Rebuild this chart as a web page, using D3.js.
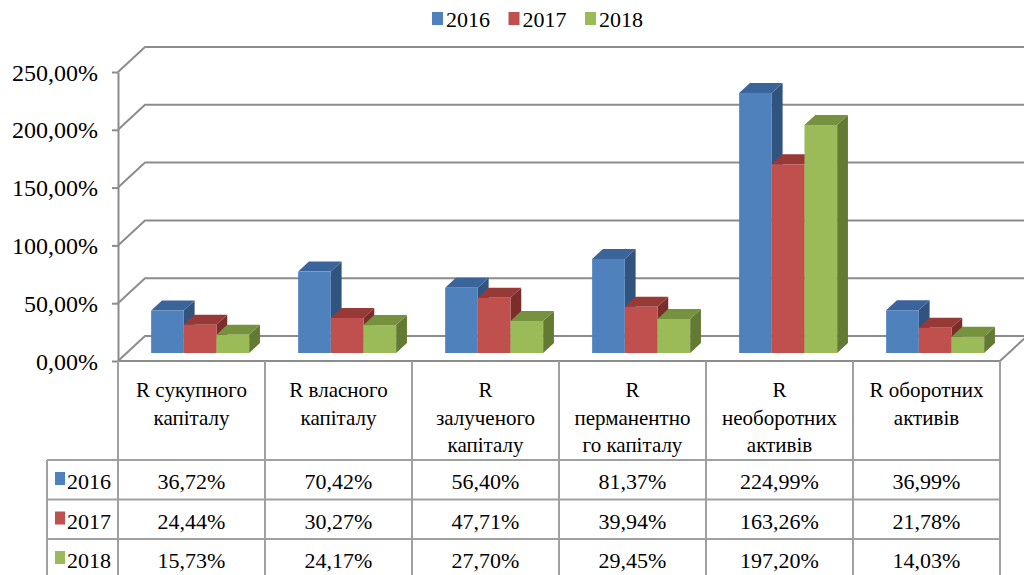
<!DOCTYPE html>
<html>
<head>
<meta charset="utf-8">
<script src="https://cdn.jsdelivr.net/npm/d3@7"></script>
<style>
  body { margin: 0; background: #fff; font-family: serif; }
</style>
</head>
<body>
<div id="chart"></div>
<script>
// Data
const categories = [
  "R сукупного\nкапіталу",
  "R власного\nкапіталу",
  "R\nзалученого\nкапіталу",
  "R\nперманентно\nго капіталу",
  "R\nнеоборотних\nактивів",
  "R оборотних\nактивів"
];
const years = ["2016", "2017", "2018"];
const values2016 = [36.72, 70.42, 56.40, 81.37, 224.99, 36.99];
const values2017 = [24.44, 30.27, 47.71, 39.94, 163.26, 21.78];
const values2018 = [15.73, 24.17, 27.70, 29.45, 197.20, 14.03];
const tickValues = [0, 50, 100, 150, 200, 250];

const seriesValues = [values2016, values2017, values2018];
const colors = {
  front: ["#4f81bd", "#c0504d", "#9bbb59"],
  top:   ["#3b649b", "#973a37", "#77923f"],
  side:  ["#31547f", "#7b2d2b", "#627a33"]
};
const serif = "Times New Roman";

// number format with comma decimal, like the original
const locale = d3.formatLocale({ decimal: ",", thousands: " ", grouping: [3], currency: ["", ""] });
const fmt = d => locale.format(".2f")(d) + "%";

const width = 1024, height = 575;
const svg = d3.select("#chart")
  .append("svg")
    .attr("width", width)
    .attr("height", height);

// plot geometry
const left = 118, right = 1000;
const depthX = 27, depthY = 25;        // floor depth (3d offset)
const barFront = 0.32, barBack = 0.72; // bar position inside the depth
const gridColor = "#8c8c8c";
const tableColor = "#a0a0a0";

const x = d3.scaleBand()
    .domain(categories)
    .range([left, right]);

const xSeries = d3.scaleBand()
    .domain(years)
    .range([0, x.bandwidth()])
    .paddingInner(0)
    .paddingOuter(0.75);

const y = d3.scaleLinear()
    .domain([0, 250])
    .range([361, 72]);

// helper: plain text straight on the svg
function label(tx, ty, str, size, anchor) {
  svg.append("text")
      .attr("x", tx)
      .attr("y", ty)
      .attr("font-family", serif)
      .attr("font-size", size)
      .attr("text-anchor", anchor || "start")
      .attr("fill", "#000")
      .text(str);
}

// Back wall gridlines with the diagonal on the side wall
svg.append("g")
  .selectAll("path")
  .data(tickValues)
  .join("path")
    .attr("d", d => `M${left},${y(d)}L${left + depthX},${y(d) - depthY}L${width + 10},${y(d) - depthY}`)
    .attr("fill", "none")
    .attr("stroke", gridColor)
    .attr("stroke-width", 2);

// Floor front and right edge
svg.append("path")
    .attr("d", `M${left},${y(0)}L${right},${y(0)}L${right + depthX},${y(0) - depthY}`)
    .attr("fill", "none")
    .attr("stroke", gridColor)
    .attr("stroke-width", 2);

// Axis line and ticks; labels are set as plain texts
const yAxis = svg.append("g")
    .attr("transform", `translate(${left},0)`)
    .call(d3.axisLeft(y).tickValues(tickValues).tickFormat("").tickSize(6).tickSizeOuter(0));
yAxis.select(".domain").attr("stroke", gridColor).attr("stroke-width", 2);
yAxis.selectAll(".tick line").attr("stroke", gridColor).attr("stroke-width", 2);
yAxis.selectAll(".tick text").remove();
tickValues.forEach(v => label(left - 20, y(v) + 8.5, fmt(v), 24, "end"));

// Bars, drawn left to right so each front covers the previous side
const bars = [];
categories.forEach((c, ci) => {
  years.forEach((yr, si) => {
    bars.push({ category: c, year: yr, series: si, value: seriesValues[si][ci] });
  });
});

const bw = xSeries.bandwidth();
const ox = barFront * depthX, oy = barFront * depthY;
const ddx = (barBack - barFront) * depthX, ddy = (barBack - barFront) * depthY;

const barGroup = svg.append("g")
  .selectAll(".bar")
  .data(bars)
  .join("g")
    .attr("class", "bar");

barGroup.append("polygon")
    .attr("points", d => {
      const x0 = x(d.category) + xSeries(d.year) + ox + bw;
      const yt = y(d.value) - oy, yb = y(0) - oy;
      return [[x0, yt], [x0 + ddx, yt - ddy], [x0 + ddx, yb - ddy], [x0, yb]].join(" ");
    })
    .attr("fill", d => colors.side[d.series]);

barGroup.append("polygon")
    .attr("points", d => {
      const x0 = x(d.category) + xSeries(d.year) + ox;
      const yt = y(d.value) - oy;
      return [[x0, yt], [x0 + bw, yt], [x0 + bw + ddx, yt - ddy], [x0 + ddx, yt - ddy]].join(" ");
    })
    .attr("fill", d => colors.top[d.series]);

barGroup.append("rect")
    .attr("x", d => x(d.category) + xSeries(d.year) + ox)
    .attr("y", d => y(d.value) - oy)
    .attr("width", bw)
    .attr("height", d => y(0) - y(d.value))
    .attr("fill", d => colors.front[d.series]);

// Legend on top
years.forEach((yr, i) => {
  const lx = 432 + i * 76.5;
  svg.append("rect")
      .attr("x", lx).attr("y", 12)
      .attr("width", 11).attr("height", 13)
      .attr("fill", colors.front[i]);
  label(lx + 14, 27, yr, 22);
});

// Data table
const tableTop = y(0), headerBottom = 460, rowH = 39.5;
const labelLeft = 47;
const tableBottom = headerBottom + years.length * rowH;

const rowLines = years.map((d, i) => headerBottom + i * rowH).concat([tableBottom]);
svg.append("g")
  .selectAll("line")
  .data(rowLines)
  .join("line")
    .attr("x1", labelLeft).attr("x2", right)
    .attr("y1", d => d).attr("y2", d => d)
    .attr("stroke", tableColor).attr("stroke-width", 2);

svg.append("g")
  .selectAll("line")
  .data(categories.map(c => x(c)).concat([right]))
  .join("line")
    .attr("x1", d => d).attr("x2", d => d)
    .attr("y1", tableTop).attr("y2", tableBottom)
    .attr("stroke", tableColor).attr("stroke-width", 2);
svg.append("line")
    .attr("x1", labelLeft).attr("x2", labelLeft)
    .attr("y1", headerBottom).attr("y2", tableBottom)
    .attr("stroke", tableColor).attr("stroke-width", 2);

// header texts, one text per line
categories.forEach(c => {
  c.split("\n").forEach((line, i) => {
    label(x(c) + x.bandwidth() / 2, 397 + i * 27.5, line, 21, "middle");
  });
});

// row labels with colour keys and values
years.forEach((yr, si) => {
  const ry = headerBottom + si * rowH;
  svg.append("rect")
      .attr("x", 55).attr("y", ry + 12)
      .attr("width", 10).attr("height", 13)
      .attr("fill", colors.front[si]);
  label(67, ry + 29, yr, 22);
  seriesValues[si].forEach((v, ci) => {
    label(x(categories[ci]) + x.bandwidth() / 2, ry + 29, fmt(v), 22, "middle");
  });
});
</script>
</body>
</html>
